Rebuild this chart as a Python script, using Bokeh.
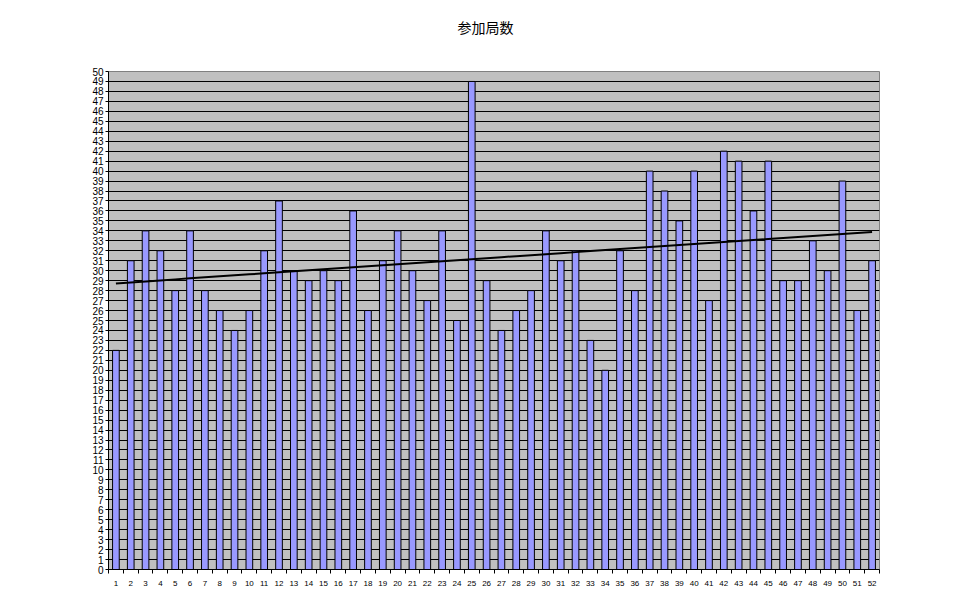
import numpy as np
from bokeh.plotting import figure
from bokeh.models import FixedTicker, Range1d, ColumnDataSource, Title
from bokeh.embed import file_html
from bokeh.resources import INLINE

weeks = list(range(1, 53))
counts = [22, 31, 34, 32, 28, 34, 28, 26, 24, 26,
          32, 37, 30, 29, 30, 29, 36, 26, 31, 34,
          30, 27, 34, 25, 49, 29, 24, 26, 28, 34,
          31, 32, 23, 20, 32, 28, 40, 38, 35, 40,
          27, 42, 41, 36, 41, 29, 29, 33, 30, 39,
          26, 31]
title_text = "参加局数"

slope, intercept = np.polyfit(weeks, counts, 1)
trend = [slope * w + intercept for w in weeks]

p = figure(width=962, height=595, output_backend="svg", toolbar_location=None,
           x_range=Range1d(0.5, 52.5), y_range=Range1d(0, 50),
           min_border_left=108, min_border_right=83, min_border_top=71,
           min_border_bottom=26)

spacer = Title(text=" ", text_font_size="14px", standoff=17)
p.add_layout(spacer, "above")
main_title = Title(text=title_text, align="left", offset=349, standoff=0,
                   text_font="Noto Sans CJK JP", text_font_size="14px",
                   text_font_style="normal", text_color="black")
p.add_layout(main_title, "above")

p.background_fill_color = "#C0C0C0"
p.border_fill_color = "white"
p.outline_line_color = "#808080"
p.outline_line_width = 1

src = ColumnDataSource(dict(x=weeks, top=counts))
p.vbar(x="x", top="top", width=0.45, bottom=0, source=src,
       fill_color="#9999FF", line_color="black", line_width=1)
p.line(weeks, trend, line_color="black", line_width=2)

p.yaxis.ticker = FixedTicker(ticks=list(range(0, 51)))
p.xaxis.ticker = FixedTicker(ticks=weeks, minor_ticks=[w + 0.5 for w in range(0, 53)])
p.xgrid.visible = False
p.ygrid.grid_line_color = "black"
p.ygrid.grid_line_width = 1
p.ygrid.grid_line_alpha = 1

for ax in (p.xaxis, p.yaxis):
    ax.axis_line_color = "black"
    ax.major_label_text_font = "Liberation Sans"
    ax.major_label_text_color = "black"

p.yaxis.major_label_text_font_size = "10px"
p.yaxis.major_tick_out = 3
p.yaxis.major_tick_in = 0
p.yaxis.minor_tick_out = 0
p.yaxis.major_label_standoff = 2

p.xaxis.major_label_text_font_size = "8px"
p.xaxis.major_tick_out = 0
p.xaxis.major_tick_in = 0
p.xaxis.minor_tick_out = 4
p.xaxis.minor_tick_in = 0
p.xaxis.minor_tick_line_color = "black"
p.xaxis.major_label_standoff = 7

open("out.html", "w").write(file_html(p, INLINE))
